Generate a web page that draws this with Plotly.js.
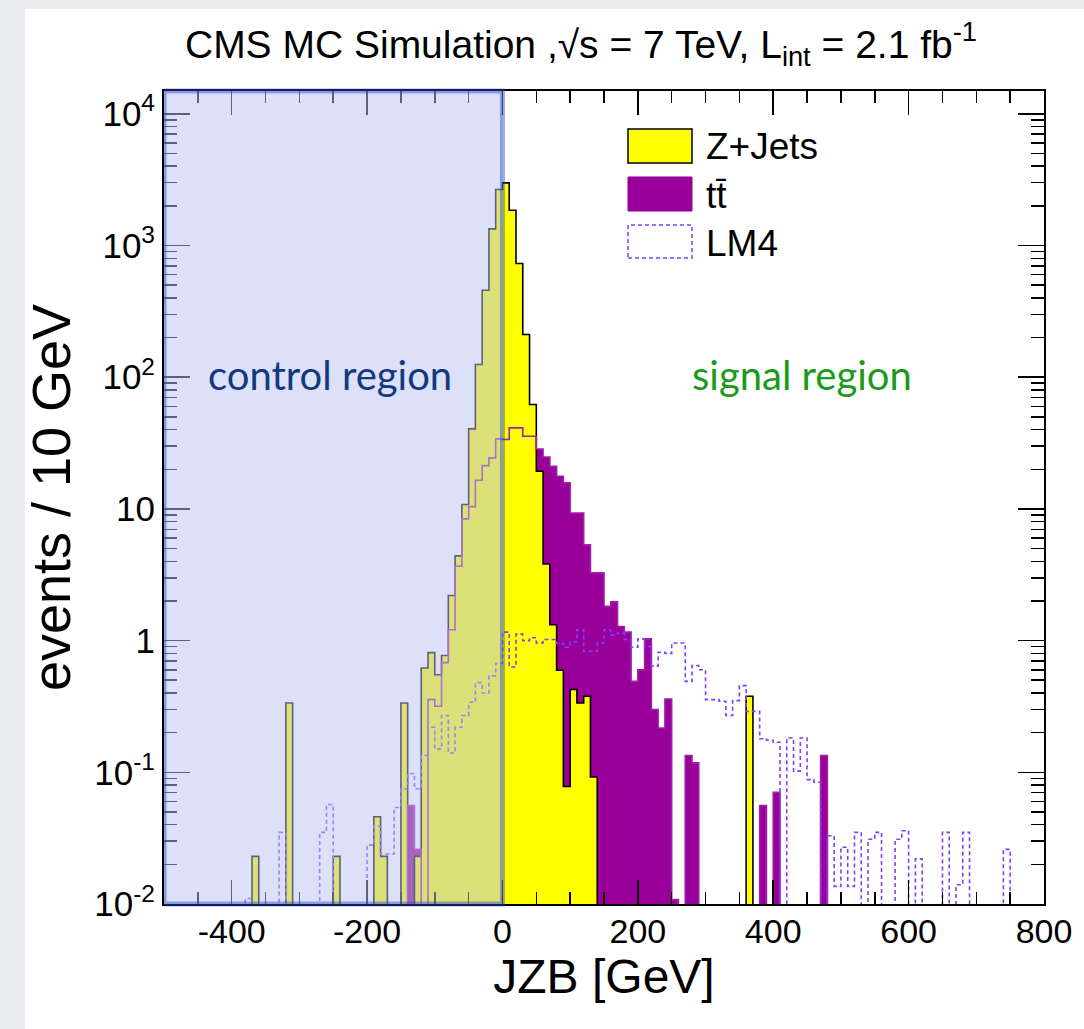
<!DOCTYPE html>
<html>
<head>
<meta charset="utf-8">
<script src="https://cdn.plot.ly/plotly-3.0.1.min.js"></script>
<style>
html,body{margin:0;padding:0;background:#fff;}
#chart{width:1084px;height:1029px;}
</style>
</head>
<body>
<div id="chart"></div>
<script>
// ---- data (bin low edges in GeV, 10 GeV bins; events / 10 GeV) ----
const binStart = -500, binWidth = 10, binCount = 130;

const zjetsLow = [-370,-320,-250,-190,-180,-150,-130,-120,-110,-100,-90,-80,-70,-60,-50,-40,-30,-20,-10,0,10,20,30,40,50,60,70,80,90,100,110,120,130,360];
const zjetsVal = [0.023,0.336,0.023,0.046,0.023,0.336,0.023,0.62,0.81,0.55,0.77,2.2,4.4,10.8,40.5,125,457,1337,2660,2990,1850,729,211,62,19.3,3.82,1.32,0.595,0.078,0.425,0.336,0.378,0.092,0.378];

const ttbarLow = [-140,-130,-110,-100,-90,-80,-70,-60,-50,-40,-30,-20,-10,0,10,20,30,40,50,60,70,80,90,100,110,120,130,140,150,160,170,180,190,200,210,220,230,240,250,270,280,380,400,470];
const ttbarVal = [0.056,0.026,0.356,0.317,0.68,1.21,3.67,8.4,10.4,16.5,21.3,24.4,34,33.6,41.2,41.2,35.6,35.6,28.5,24.8,21.1,17.7,15.8,9.3,9.3,5.33,3.27,3.27,1.82,1.97,1.28,1.16,0.49,0.60,1.03,0.30,0.217,0.36,0.0108,0.134,0.118,0.056,0.0705,0.134];

const lm4Low = [-380,-330,-270,-260,-200,-190,-180,-170,-160,-150,-140,-130,-120,-110,-100,-90,-80,-70,-60,-50,-40,-30,-20,-10,0,10,20,30,40,50,60,70,80,90,100,110,120,130,140,150,160,170,180,190,200,210,220,230,240,250,260,270,280,290,300,310,320,330,340,350,360,370,380,390,400,420,430,440,450,460,480,490,500,510,520,540,550,580,590,610,650,670,680,740];
const lm4Val = [0.011,0.035,0.035,0.057,0.028,0.039,0.024,0.024,0.054,0.075,0.098,0.075,0.134,0.22,0.15,0.27,0.14,0.22,0.27,0.34,0.48,0.40,0.54,0.67,1.16,0.63,1.12,1.0,1.05,0.96,1.02,1.02,0.95,0.89,0.98,1.21,0.83,0.83,0.96,1.21,1.1,1.14,1.02,0.89,1.03,0.9,0.64,0.815,0.80,0.96,0.96,0.49,0.646,0.60,0.356,0.356,0.346,0.27,0.35,0.455,0.29,0.29,0.18,0.175,0.169,0.182,0.102,0.182,0.088,0.084,0.033,0.0136,0.027,0.0136,0.035,0.031,0.035,0.031,0.036,0.022,0.035,0.014,0.035,0.026];

const seriesNames = ["Z+Jets", "tt\u0304", "LM4"];
const xTickVals = [-400,-200,0,200,400,600,800];
const yTickVals = [0.01,0.1,1,10,100,1000,10000];
const yTickText = ["10<sup>-2</sup>","10<sup>-1</sup>","1","10","10<sup>2</sup>","10<sup>3</sup>","10<sup>4</sup>"];

// ---- helpers ----
const FLOOR = 1e-6; // empty bins: drawn below the axis range, clipped
function stepLine(lows, vals){
  const dense = new Array(binCount).fill(0);
  lows.forEach((lo,i)=>{ dense[Math.round((lo-binStart)/binWidth)] = vals[i]; });
  const xs = [], ys = [];
  xs.push(binStart); ys.push(FLOOR);
  for(let i=0;i<binCount;i++){ xs.push(binStart+i*binWidth); ys.push(dense[i]>0?dense[i]:FLOOR); }
  xs.push(binStart+binCount*binWidth); ys.push(FLOOR);
  return {xs, ys};
}
function centers(lows){ return lows.map(l=>l+binWidth/2); }

const YEL = "#ffff00", PUR = "#990099", LMC = "#7f3fff";
const zStep = stepLine(zjetsLow, zjetsVal);
const tStep = stepLine(ttbarLow, ttbarVal);
const lStep = stepLine(lm4Low, lm4Val);

const traces = [
  {type:"bar", name:seriesNames[1], x:centers(ttbarLow), y:ttbarVal, width:binWidth,
   marker:{color:PUR, line:{width:0}}, showlegend:false, hoverinfo:"skip"},
  {type:"bar", name:seriesNames[0], x:centers(zjetsLow), y:zjetsVal, width:binWidth,
   marker:{color:YEL, line:{width:0}}, showlegend:false, hoverinfo:"skip"},
  {type:"scatter", mode:"lines", x:zStep.xs, y:zStep.ys, line:{shape:"hv", color:"#000", width:1.6},
   showlegend:false, hoverinfo:"skip"},
  {type:"scatter", mode:"lines", x:tStep.xs, y:tStep.ys, line:{shape:"hv", color:"#a020a8", width:1.6},
   showlegend:false, hoverinfo:"skip"},
  {type:"scatter", mode:"lines", name:seriesNames[2], x:lStep.xs, y:lStep.ys,
   line:{shape:"hv", color:LMC, width:1.6, dash:"4px,3px"}, showlegend:false, hoverinfo:"skip"}
];

const L = 164, R = 40, T = 91, B = 125;
const W = 1084, H = 1029;
const pw = W-L-R, ph = H-T-B;
const px = v => (v-L)/pw;           // page x -> paper x
const py = v => (H-B-v)/ph;         // page y -> paper y

const FONT = "'Liberation Sans', Arial, Helvetica, sans-serif";
const GILL = "Lato, 'Open Sans', sans-serif";

const shapes = [
  // page background frame
  {type:"rect", xref:"paper", yref:"paper", x0:px(0), x1:px(W), y0:py(H), y1:py(0),
   fillcolor:"#eaecf0", line:{width:0}, layer:"below"},
  {type:"rect", xref:"paper", yref:"paper", x0:px(25), x1:px(W), y0:py(H), y1:py(9),
   fillcolor:"#ffffff", line:{width:0}, layer:"below"},
  // control region overlay
  {type:"rect", xref:"x", yref:"paper", x0:-500, x1:0, y0:0, y1:1,
   fillcolor:"rgba(186,193,242,0.5)", line:{color:"rgba(40,70,200,0.45)", width:5}, layer:"above"},
  // legend boxes
  {type:"rect", xref:"paper", yref:"paper", x0:px(628), x1:px(692), y0:py(163), y1:py(129),
   fillcolor:YEL, line:{color:"#000", width:1.5}},
  {type:"rect", xref:"paper", yref:"paper", x0:px(628), x1:px(692), y0:py(211), y1:py(177),
   fillcolor:PUR, line:{color:PUR, width:1}},
  {type:"rect", xref:"paper", yref:"paper", x0:px(628), x1:px(692), y0:py(258), y1:py(225),
   fillcolor:"rgba(0,0,0,0)", line:{color:LMC, width:1.5, dash:"4px,3px"}}
];

const annotations = [
  {xref:"paper", yref:"paper", x:px(704), y:py(147), xanchor:"left", yanchor:"middle", showarrow:false,
   text:seriesNames[0], font:{family:FONT, size:37, color:"#000"}},
  {xref:"paper", yref:"paper", x:px(704), y:py(195), xanchor:"left", yanchor:"middle", showarrow:false,
   text:seriesNames[1], font:{family:FONT, size:37, color:"#000"}},
  {xref:"paper", yref:"paper", x:px(704), y:py(243), xanchor:"left", yanchor:"middle", showarrow:false,
   text:seriesNames[2], font:{family:FONT, size:37, color:"#000"}},
  {xref:"paper", yref:"paper", x:px(330), y:py(375), xanchor:"center", yanchor:"middle", showarrow:false,
   text:"control region", font:{family:GILL, size:40, color:"#13387f"}},
  {xref:"paper", yref:"paper", x:px(802), y:py(375), xanchor:"center", yanchor:"middle", showarrow:false,
   text:"signal region", font:{family:GILL, size:40, color:"#1a9a1a"}}
];

const layout = {
  width:W, height:H,
  margin:{l:L, r:R, t:T, b:B, pad:0},
  paper_bgcolor:"#ffffff", plot_bgcolor:"#ffffff",
  showlegend:false,
  barmode:"overlay", bargap:0,
  title:{text:"CMS MC Simulation ,\u221As = 7 TeV, L<sub>int</sub> = 2.1 fb<sup>-1</sup>",
         font:{family:FONT, size:39, color:"#000"},
         x:581/W, xref:"container", xanchor:"center", y:1-44/H, yref:"container", yanchor:"middle"},
  xaxis:{
    range:[-500,800], tickmode:"array", tickvals:xTickVals, ticktext:xTickVals.map(String),
    ticks:"inside", ticklen:24, tickwidth:1.5, tickcolor:"#000",
    minor:{dtick:50, tick0:0, ticks:"inside", ticklen:12, tickwidth:1.5, tickcolor:"#000"},
    showline:true, linecolor:"#000", linewidth:2, mirror:"ticks",
    showgrid:false, zeroline:false,
    tickfont:{family:FONT, size:34, color:"#000"},
    ticklabelstandoff:-4,
    title:{text:"JZB [GeV]", font:{family:FONT, size:48, color:"#000"}, standoff:8},
    automargin:false
  },
  yaxis:{
    type:"log", range:[-2, 4.173],
    tickmode:"array", tickvals:yTickVals, ticktext:yTickText,
    ticks:"inside", ticklen:26, tickwidth:1.5, tickcolor:"#000",
    minor:{dtick:"D1", ticks:"inside", ticklen:13, tickwidth:1.5, tickcolor:"#000"},
    showline:true, linecolor:"#000", linewidth:2, mirror:"ticks",
    showgrid:false, zeroline:false,
    tickfont:{family:FONT, size:35, color:"#000"},
    title:{text:"events / 10 GeV", font:{family:FONT, size:54, color:"#000"}, standoff:6},
    automargin:false
  },
  shapes:shapes,
  annotations:annotations
};

Plotly.newPlot("chart", traces, layout, {displayModeBar:false, staticPlot:true});
</script>
</body>
</html>
